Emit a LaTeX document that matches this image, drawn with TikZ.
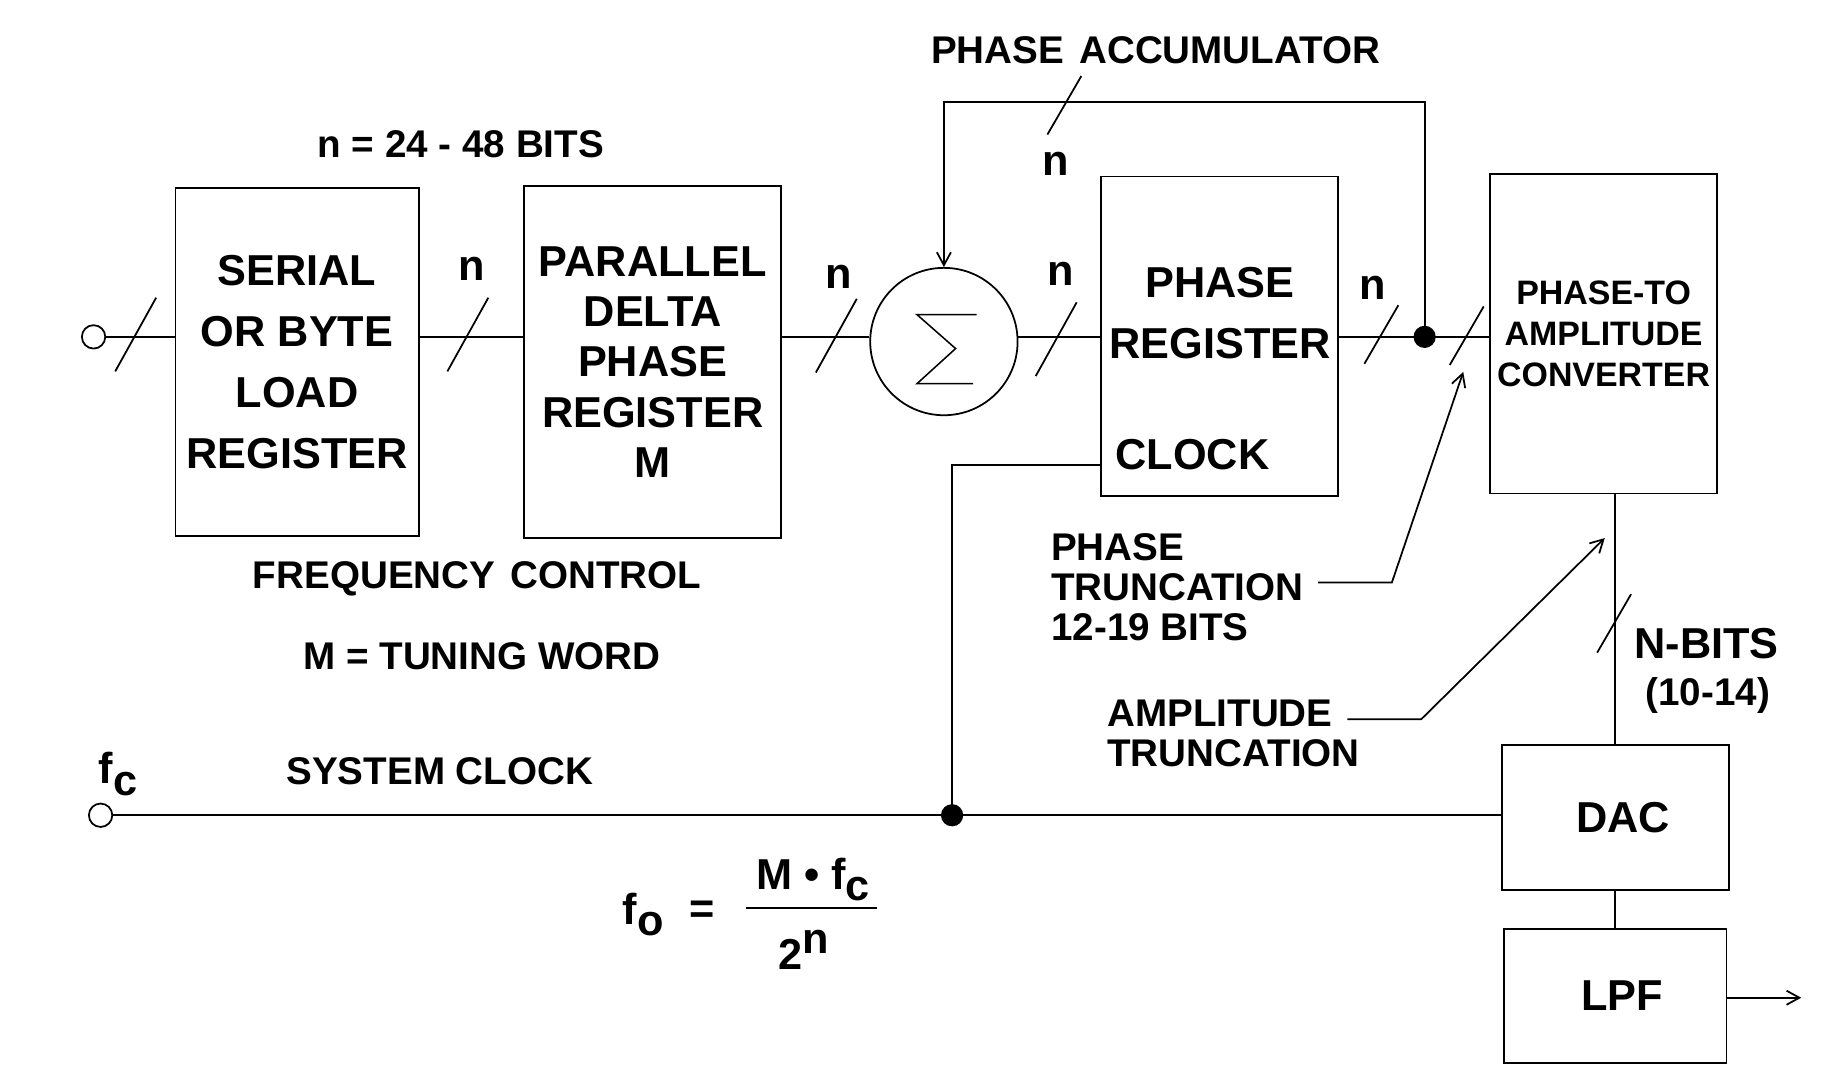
\documentclass[tikz,border=0pt]{standalone}
\usepackage{fontspec}
\setmainfont{Liberation Sans}
\usetikzlibrary{arrows.meta,calc}
\newcommand\bigA{\fontsize{37}{52}\selectfont\bfseries}
\newcommand\bigB{\fontsize{37}{43}\selectfont\bfseries}
\newcommand\midA{\fontsize{33}{34}\selectfont\bfseries}
\newcommand\smlA{\fontsize{29}{35}\selectfont\bfseries}
\tikzset{
  blk/.style={draw, rectangle, inner sep=0pt, align=center},
  lbl/.style={inner sep=0pt, align=left},
  bigslash/.pic={\draw (-17.5,31.5) -- (17.5,-31.5);},
  smlslash/.pic={\draw (-14.5,25) -- (14.5,-25);},
  tip/.style={-{Straight Barb[length=11pt,width=12pt]}},
  port/.style={draw, circle, fill=white, minimum size=20pt, inner sep=0pt},
  jdot/.style={circle, fill=black, minimum size=19pt, inner sep=0pt},
}
\begin{document}
\begin{tikzpicture}[x=1pt,y=-1pt,line width=1.5pt]
\useasboundingbox (0,0) rectangle (1568,927);
% blocks
\node[blk, minimum width=208pt, minimum height=297pt, font=\bigA] (serial) at (254,309.5) {SERIAL\\OR BYTE\\LOAD\\REGISTER};
\node[blk, minimum width=220pt, minimum height=301pt, font=\bigB] (parallel) at (558,309.5) {PARALLEL\\DELTA\\PHASE\\REGISTER\\M};
\node[draw, circle, minimum size=126pt, inner sep=0pt] (sum) at (807,292) {};
\node[blk, minimum width=203pt, minimum height=273pt] (preg) at (1042.5,287.5) {};
\node[lbl, align=center, font=\bigA] (pregt) at (1043,268) {PHASE\\REGISTER};
\node[lbl, font=\bigA, anchor=west] (clk) at (953,389) {CLOCK};
\node[blk, minimum width=194pt, minimum height=273pt, font=\smlA] (conv) at (1371,285.5) {PHASE-TO\\AMPLITUDE\\CONVERTER};
\node[blk, minimum width=194pt, minimum height=124pt, font=\bigA] (dac) at (1381,699) {\hspace*{13pt}DAC};
\node[blk, minimum width=190pt, minimum height=115pt, font=\bigA] (lpf) at (1381,851.5) {\hspace*{12pt}LPF};
% sigma
\draw[line width=1.3pt, shift={(sum.center)}] (28,-23) -- (-23,-23) -- (10,6) -- (-23,36) -- (25,36);
% ports and junctions
\node[port] (inA) at (80,288) {};
\node[port] (inB) at (86,697) {};
\node[jdot] (dot) at (1218,288) {};
\node[jdot] (cdot) at (814,697) {};
\coordinate (fbtop) at (1218,87);
\coordinate (out) at (1540,853);
\coordinate (pts) at (1127,498);
\coordinate (ptk) at (1190,498);
\coordinate (ptt) at (1251,318);
\coordinate (ats) at (1152,615);
\coordinate (atk) at (1215,615);
\coordinate (att) at (1372,460);
% main bus
\draw (inA) -- (inA -| serial.west);
\draw (serial.east |- inA) -- (parallel.west |- inA);
\draw (parallel.east |- inA) -- (sum.west |- inA);
\draw (sum.east |- inA) -- (preg.west |- inA);
\draw (preg.east |- inA) -- (conv.west |- inA);
\draw[tip] (dot.center) -- (fbtop) -| (sum.north);
% clock
\draw (inB) -- (inB -| dac.west);
\draw (cdot.center) |- ($(preg.south west)+(0,-27)$);
% output chain
\draw (conv.south -| dac.north) -- (dac.north);
\draw (dac.south) -- (lpf.north);
\draw[tip] (lpf.east |- out) -- (out);
% bus slashes
\pic at (116,286) {bigslash};
\pic at (400,286) {bigslash};
\pic at (715,287) {bigslash};
\pic at (903,290) {bigslash};
\pic at (1181,286) {smlslash};
\pic at (1254,287) {smlslash};
\pic at (910,90) {smlslash};
\pic at (1380,533) {smlslash};
% n labels
\node[font=\bigA, inner sep=0pt] (n1) at (403,230) {n};
\node[font=\bigA, inner sep=0pt] (n2) at (717,237) {n};
\node[font=\bigA, inner sep=0pt] (n3) at (907,234) {n};
\node[font=\bigA, inner sep=0pt] (n4) at (1174,246) {n};
\node[font=\bigA, inner sep=0pt] (n5) at (903,140) {n};
% texts
\node[font=\midA, inner sep=0pt] (acc) at (988,43) {PHASE\hspace{0.12em} ACCUMULATOR};
\node[font=\midA, inner sep=0pt] (bits) at (394,123) {n = 24 - 48 BITS};
\node[font=\midA, inner sep=0pt] (freq) at (408,495) {FREQUENCY\hspace{0.12em} CONTROL};
\node[font=\midA, inner sep=0pt] (tw) at (412,561) {M = TUNING WORD};
\node[font=\midA, inner sep=0pt] (sc) at (376,659) {SYSTEM CLOCK};
\node[lbl, font=\midA, anchor=west] (ptl) at (898,502) {PHASE\\TRUNCATION\\12-19 BITS};
\node[lbl, font=\midA, anchor=west] (atl) at (946,627) {AMPLITUDE\\TRUNCATION};
\node[font=\bigA, inner sep=0pt] (nb) at (1459,550) {N-BITS};
\node[font=\midA, inner sep=0pt] (nr) at (1460,595) {(10-14)};
\node[font=\bigA, inner sep=0pt] (fcl) at (101,662) {f\raisebox{-10pt}{c}};
% leaders
\draw[tip] (pts) -- (ptk) -- (ptt);
\draw[tip] (ats) -- (atk) -- (att);
% formula
\node[font=\bigA, inner sep=0pt] (fo) at (550,782) {f\raisebox{-10pt}{o}};
\node[font=\bigA, inner sep=0pt] (eq) at (600,780) {=};
\node[font=\bigA, inner sep=0pt] (num) at (695,752) {M \textbullet\ f\raisebox{-10pt}{c}};
\node[font=\bigA, inner sep=0pt] (den) at (687,812) {2\raisebox{14pt}{n}};
\draw (638,776) -- (750,776);
\end{tikzpicture}
\end{document}
